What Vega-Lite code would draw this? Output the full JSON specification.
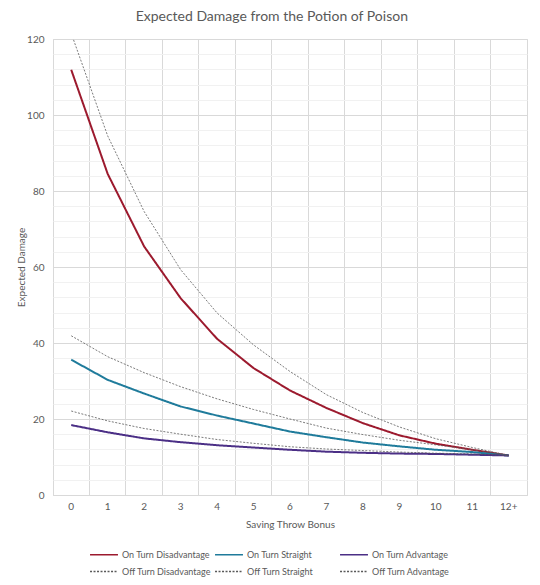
{
  "$schema": "https://vega.github.io/schema/vega-lite/v6.json",
  "width": 474,
  "height": 456,
  "autosize": {"type": "none"},
  "padding": {"left": 53, "top": 39, "right": 13, "bottom": 90},
  "background": "white",
  "title": {"text": "Expected Damage from the Potion of Poison", "anchor": "middle", "frame": "bounds", "font": "Lato", "fontSize": 14, "fontWeight": "normal", "color": "#595959", "offset": 9},
  "config": {
    "view": {"stroke": "#d9d9d9", "strokeWidth": 1},
    "axis": {"labelFont": "Lato", "titleFont": "Lato", "labelColor": "#595959", "titleColor": "#595959", "labelFontSize": 10, "titleFontSize": 10, "titleFontWeight": "normal"}
  },
  "data": {"values": [
    {"b": "0", "s": "On Turn Disadvantage", "v": 111.9},
    {"b": "1", "s": "On Turn Disadvantage", "v": 84.5},
    {"b": "2", "s": "On Turn Disadvantage", "v": 65.4},
    {"b": "3", "s": "On Turn Disadvantage", "v": 51.8},
    {"b": "4", "s": "On Turn Disadvantage", "v": 41.1},
    {"b": "5", "s": "On Turn Disadvantage", "v": 33.4},
    {"b": "6", "s": "On Turn Disadvantage", "v": 27.5},
    {"b": "7", "s": "On Turn Disadvantage", "v": 22.9},
    {"b": "8", "s": "On Turn Disadvantage", "v": 18.9},
    {"b": "9", "s": "On Turn Disadvantage", "v": 15.7},
    {"b": "10", "s": "On Turn Disadvantage", "v": 13.5},
    {"b": "11", "s": "On Turn Disadvantage", "v": 11.9},
    {"b": "12+", "s": "On Turn Disadvantage", "v": 10.4},
    {"b": "0", "s": "On Turn Straight", "v": 35.6},
    {"b": "1", "s": "On Turn Straight", "v": 30.3},
    {"b": "2", "s": "On Turn Straight", "v": 26.7},
    {"b": "3", "s": "On Turn Straight", "v": 23.3},
    {"b": "4", "s": "On Turn Straight", "v": 20.9},
    {"b": "5", "s": "On Turn Straight", "v": 18.8},
    {"b": "6", "s": "On Turn Straight", "v": 16.7},
    {"b": "7", "s": "On Turn Straight", "v": 15.2},
    {"b": "8", "s": "On Turn Straight", "v": 13.8},
    {"b": "9", "s": "On Turn Straight", "v": 12.8},
    {"b": "10", "s": "On Turn Straight", "v": 11.9},
    {"b": "11", "s": "On Turn Straight", "v": 11.3},
    {"b": "12+", "s": "On Turn Straight", "v": 10.4},
    {"b": "0", "s": "On Turn Advantage", "v": 18.4},
    {"b": "1", "s": "On Turn Advantage", "v": 16.5},
    {"b": "2", "s": "On Turn Advantage", "v": 14.9},
    {"b": "3", "s": "On Turn Advantage", "v": 13.9},
    {"b": "4", "s": "On Turn Advantage", "v": 13.1},
    {"b": "5", "s": "On Turn Advantage", "v": 12.5},
    {"b": "6", "s": "On Turn Advantage", "v": 11.9},
    {"b": "7", "s": "On Turn Advantage", "v": 11.4},
    {"b": "8", "s": "On Turn Advantage", "v": 11.1},
    {"b": "9", "s": "On Turn Advantage", "v": 10.9},
    {"b": "10", "s": "On Turn Advantage", "v": 10.8},
    {"b": "11", "s": "On Turn Advantage", "v": 10.6},
    {"b": "12+", "s": "On Turn Advantage", "v": 10.4},
    {"b": "0", "s": "Off Turn Disadvantage", "v": 121.5},
    {"b": "1", "s": "Off Turn Disadvantage", "v": 94.5},
    {"b": "2", "s": "Off Turn Disadvantage", "v": 74.6},
    {"b": "3", "s": "Off Turn Disadvantage", "v": 59.3},
    {"b": "4", "s": "Off Turn Disadvantage", "v": 47.9},
    {"b": "5", "s": "Off Turn Disadvantage", "v": 39.5},
    {"b": "6", "s": "Off Turn Disadvantage", "v": 32.5},
    {"b": "7", "s": "Off Turn Disadvantage", "v": 26.4},
    {"b": "8", "s": "Off Turn Disadvantage", "v": 21.7},
    {"b": "9", "s": "Off Turn Disadvantage", "v": 17.9},
    {"b": "10", "s": "Off Turn Disadvantage", "v": 14.8},
    {"b": "11", "s": "Off Turn Disadvantage", "v": 12.5},
    {"b": "12+", "s": "Off Turn Disadvantage", "v": 10.4},
    {"b": "0", "s": "Off Turn Straight", "v": 41.9},
    {"b": "1", "s": "Off Turn Straight", "v": 36.4},
    {"b": "2", "s": "Off Turn Straight", "v": 32.2},
    {"b": "3", "s": "Off Turn Straight", "v": 28.5},
    {"b": "4", "s": "Off Turn Straight", "v": 25.3},
    {"b": "5", "s": "Off Turn Straight", "v": 22.5},
    {"b": "6", "s": "Off Turn Straight", "v": 20.0},
    {"b": "7", "s": "Off Turn Straight", "v": 17.6},
    {"b": "8", "s": "Off Turn Straight", "v": 15.9},
    {"b": "9", "s": "Off Turn Straight", "v": 14.4},
    {"b": "10", "s": "Off Turn Straight", "v": 13.2},
    {"b": "11", "s": "Off Turn Straight", "v": 11.9},
    {"b": "12+", "s": "Off Turn Straight", "v": 10.4},
    {"b": "0", "s": "Off Turn Advantage", "v": 22.1},
    {"b": "1", "s": "Off Turn Advantage", "v": 19.5},
    {"b": "2", "s": "Off Turn Advantage", "v": 17.5},
    {"b": "3", "s": "Off Turn Advantage", "v": 16.0},
    {"b": "4", "s": "Off Turn Advantage", "v": 14.6},
    {"b": "5", "s": "Off Turn Advantage", "v": 13.6},
    {"b": "6", "s": "Off Turn Advantage", "v": 12.7},
    {"b": "7", "s": "Off Turn Advantage", "v": 12.1},
    {"b": "8", "s": "Off Turn Advantage", "v": 11.7},
    {"b": "9", "s": "Off Turn Advantage", "v": 11.3},
    {"b": "10", "s": "Off Turn Advantage", "v": 11.0},
    {"b": "11", "s": "Off Turn Advantage", "v": 10.8},
    {"b": "12+", "s": "Off Turn Advantage", "v": 10.4}
  ]},
  "layer": [
    {
      "mark": {"type": "line", "opacity": 0},
      "encoding": {
        "x": {"field": "b", "type": "ordinal", "bandPosition": 0.5,
          "scale": {"type": "band", "domain": ["0","1","2","3","4","5","6","7","8","9","10","11","12+"], "paddingInner": 0, "paddingOuter": 0},
          "axis": {"orient": "top", "bandPosition": 0, "grid": true, "gridColor": "#d9d9d9", "gridWidth": 1, "labels": false, "ticks": false, "domain": false, "title": null}},
        "y": {"field": "v", "type": "quantitative",
          "scale": {"domain": [0, 120], "nice": false, "zero": true},
          "axis": {"orient": "right", "values": [4,8,12,16,24,28,32,36,44,48,52,56,64,68,72,76,84,88,92,96,104,108,112,116], "grid": true, "gridColor": "#f1f1f1", "gridWidth": 1, "labels": false, "ticks": false, "domain": false, "title": null}},
        "detail": {"field": "s", "type": "nominal"}
      }
    },
    {
      "transform": [{"filter": "indexof(datum.s, 'On Turn') == 0"}],
      "mark": {"type": "line", "strokeWidth": 2, "clip": true, "strokeJoin": "round"},
      "encoding": {
        "x": {"field": "b", "type": "ordinal", "bandPosition": 0.5,
          "axis": {"orient": "bottom", "grid": false, "ticks": false, "domain": true, "domainColor": "#d9d9d9", "labelAngle": 0, "labelPadding": 6, "title": "Saving Throw Bonus", "titlePadding": 8}},
        "y": {"field": "v", "type": "quantitative",
          "axis": {"orient": "left", "values": [0,20,40,60,80,100,120], "grid": true, "gridColor": "#d9d9d9", "gridWidth": 1, "ticks": false, "domain": false, "labelPadding": 9, "title": "Expected Damage", "titlePadding": 0}},
        "color": {"field": "s", "type": "nominal",
          "scale": {"domain": ["On Turn Disadvantage","On Turn Straight","On Turn Advantage","Off Turn Disadvantage","Off Turn Straight","Off Turn Advantage"], "range": ["#9c1a2e","#1f7b9b","#4b2f86","#595959","#595959","#595959"]},
          "legend": {"title": null, "orient": "none", "direction": "horizontal", "legendX": 40.5, "legendY": 505, "columns": 3, "gridAlign": "all", "columnPadding": 0, "rowPadding": 1, "symbolType": "M-1.47,0H1.47", "symbolSize": 361, "symbolStrokeWidth": 1.5, "labelFont": "Lato", "labelFontSize": 9, "labelColor": "#595959", "labelOffset": 7.5}},
        "strokeDash": {"field": "s", "type": "nominal",
          "scale": {"domain": ["On Turn Disadvantage","On Turn Straight","On Turn Advantage","Off Turn Disadvantage","Off Turn Straight","Off Turn Advantage"], "range": [[1,0],[1,0],[1,0],[2,1.5],[2,1.5],[2,1.5]]},
          "legend": {"title": null}}
      }
    },
    {
      "transform": [{"filter": "indexof(datum.s, 'Off Turn') == 0"}],
      "mark": {"type": "line", "strokeWidth": 0.8, "clip": true},
      "encoding": {
        "x": {"field": "b", "type": "ordinal", "bandPosition": 0.5, "axis": null},
        "y": {"field": "v", "type": "quantitative", "axis": null},
        "color": {"field": "s", "type": "nominal", "legend": {"title": null}},
        "strokeDash": {"field": "s", "type": "nominal", "legend": {"title": null}}
      }
    }
  ],
  "resolve": {"axis": {"x": "independent", "y": "independent"}}
}
